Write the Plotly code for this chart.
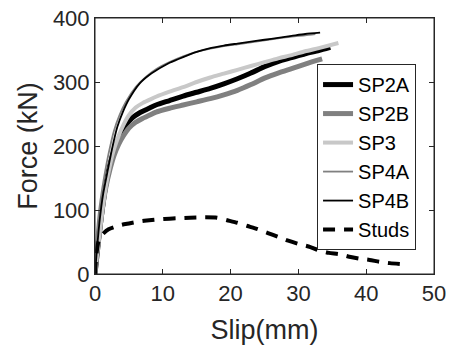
import plotly.graph_objects as go

# ---- data ----
sp2a_slip = [0, 0.3, 0.6, 1.0, 1.5, 2.0, 2.6, 3.2, 3.9, 4.6, 5.5, 6.6, 8.0, 9.0, 11, 13, 15, 17, 19, 21, 23, 25, 27, 29, 31, 33, 34.7]
sp2a_force = [0, 30, 60, 95, 133, 162, 186, 204, 220, 233, 244, 252, 259, 264, 271, 278, 284, 290, 297, 305, 314, 324, 332, 338, 344, 349, 354]

sp2b_slip = [0, 0.3, 0.7, 1.1, 1.6, 2.2, 2.8, 3.5, 4.2, 5.0, 6.0, 7.0, 8.0, 9.0, 11, 13, 15, 17, 19, 21, 23, 25, 27, 29, 31, 33.5]
sp2b_force = [0, 35, 70, 103, 135, 163, 185, 203, 216, 228, 237, 243, 248, 253, 259, 264, 269, 274, 280, 287, 296, 306, 314, 321, 328, 336]

sp3_slip = [0, 0.3, 0.7, 1.1, 1.6, 2.2, 2.8, 3.5, 4.2, 5.0, 6.0, 7.0, 8.0, 9.0, 11, 13, 15, 17, 19, 21, 23, 25, 27, 29, 31, 33, 35.9]
sp3_force = [0, 30, 65, 100, 137, 170, 195, 216, 233, 248, 260, 267, 272, 277, 285, 292, 300, 307, 313, 319, 325, 331, 337, 342, 348, 353, 361]

sp4a_slip = [0, 0.15, 0.4, 0.8, 1.4, 2.0, 2.8, 3.6, 4.5, 6.0, 7.5, 9, 11, 13, 15, 17, 19, 21, 23, 25, 27, 29, 31, 32.5]
sp4a_force = [0, 45, 80, 115, 155, 188, 224, 248, 268, 292, 308, 320, 331, 340, 347, 352, 356, 359, 362, 365, 368, 371, 373, 375]

sp4b_slip = [0, 0.3, 0.7, 1.2, 1.9, 2.5, 3.3, 4.1, 5.0, 6.6, 8.0, 9.0, 11, 13, 15, 17, 19, 21, 23, 25, 27, 29, 31, 33.2]
sp4b_force = [0, 40, 85, 125, 163, 195, 230, 253, 273, 298, 311, 318, 330, 339, 347, 353, 357, 360, 363, 366, 369, 372, 375, 377]

studs_slip = [0, 0.2, 0.5, 0.8, 1.2, 2.0, 3.0, 4.0, 5.0, 6.5, 8.0, 10, 12, 14, 16, 18, 19.5, 21, 22.5, 24, 25.5, 27, 28.5, 30, 31.5, 33, 34.5, 36, 37.5, 39, 40.5, 42, 43.5, 45]
studs_force = [0, 30, 50, 58, 63, 70, 74, 77, 79, 82, 84, 86, 87, 88, 88.5, 88, 84, 80, 75, 70, 64, 58, 52, 47, 43, 37, 33, 31, 27, 24, 22, 19, 17, 15.6]

x_ticks = [0, 10, 20, 30, 40, 50]
y_ticks = [0, 100, 200, 300, 400]

FONT = "Liberation Sans, Arial, sans-serif"
AX = "#262626"

fig = go.Figure()
series = [
    ("SP2A", sp2a_slip, sp2a_force, "#000000", 5, "solid"),
    ("SP2B", sp2b_slip, sp2b_force, "#808080", 5, "solid"),
    ("SP3", sp3_slip, sp3_force, "#c8c8c8", 4, "solid"),
    ("SP4A", sp4a_slip, sp4a_force, "#808080", 1.8, "solid"),
    ("SP4B", sp4b_slip, sp4b_force, "#000000", 1.8, "solid"),
    ("Studs", studs_slip, studs_force, "#000000", 4, "12px,9px"),
]
for name, xs, ys, col, w, dash in series:
    fig.add_trace(go.Scatter(x=xs, y=ys, mode="lines", name=name, line_shape="spline",
                             line=dict(color=col, width=w, dash=dash, smoothing=0.6)))

axis_common = dict(showgrid=False, zeroline=False, showline=True, linecolor=AX, linewidth=1,
                   mirror="ticks", ticks="inside", ticklen=5, tickcolor=AX, automargin=False,
                   ticklabeloverflow="allow",
                   tickfont=dict(family=FONT, size=22, color=AX))

fig.update_xaxes(range=[0, 50], tickvals=x_ticks, ticktext=[str(v) for v in x_ticks],
                 title=dict(text="Slip(mm)", font=dict(family=FONT, size=27, color=AX), standoff=14),
                 **axis_common)
fig.update_yaxes(range=[0, 400], tickvals=y_ticks, ticktext=[str(v) for v in y_ticks],
                 title=dict(text="Force (kN)", font=dict(family=FONT, size=27, color=AX), standoff=7),
                 **axis_common)

fig.update_layout(
    width=451, height=349,
    margin=dict(l=95, r=17, t=18, b=75),
    paper_bgcolor="white", plot_bgcolor="white",
    showlegend=True,
    legend=dict(x=0.655, y=0.82, xanchor="left", yanchor="top",
                bgcolor="white", bordercolor=AX, borderwidth=1,
                font=dict(family=FONT, size=20, color="#000000"),
                itemwidth=30, tracegroupgap=0),
    shapes=[dict(type="rect", xref="paper", yref="paper", x0=0, y0=0, x1=1, y1=1,
                 line=dict(color=AX, width=1), layer="above")],
)

# remove the browser's default 8px body margin so the figure sits at the page origin
fig.write_html("out.html", config={"displayModeBar": False},
               post_script="document.body.style.margin='0';")
